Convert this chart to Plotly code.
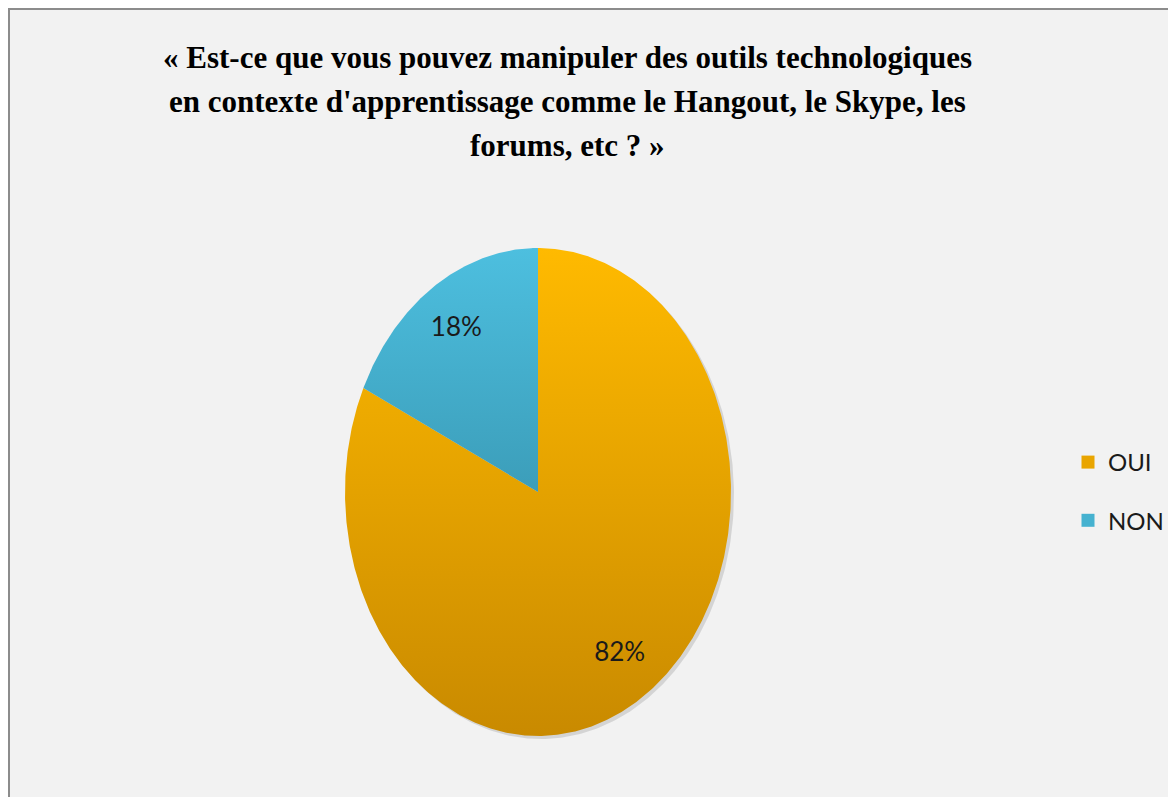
import numpy as np
import plotly.graph_objects as go

# ---- data ----
categories = ["OUI", "NON"]
values = [82, 18]
title_lines = [
    "« Est-ce que vous pouvez manipuler des outils technologiques",
    "en contexte d'apprentissage comme le Hangout, le Skype, les",
    "forums, etc ? »",
]

# ---- styles ----
W, H = 1168, 789                      # page has an 8px body margin
CX, CY, RX, RY = 530, 484, 193, 244   # pie centre / radii in pixels
grad = {
    "OUI": ("#C98A00", "#FFBA00"),
    "NON": ("#2A7C94", "#4DBFDF"),
}
legend_col = {"OUI": "#E9A500", "NON": "#46B2D0"}

fig = go.Figure()

# axis ranges such that the unit circle maps onto the ellipse
xr = [-CX / RX, (W - CX) / RX]
yr = [(CY - H) / RY, CY / RY]

# soft shadow
t = np.linspace(0, 2 * np.pi, 400)
fig.add_trace(go.Scatter(
    x=np.sin(t) + 3 / RX, y=np.cos(t) - 3 / RY, mode="lines",
    fill="toself", fillcolor="rgba(0,0,0,0.12)", line=dict(width=0),
    hoverinfo="skip", showlegend=False))

total = sum(values)
start = 0.0
mids = []
for cat, v in zip(categories, values):
    span = 360.0 * v / total
    th = np.radians(np.linspace(start, start + span, max(int(span * 2), 10)))
    xs = np.concatenate([[0], np.sin(th), [0]])
    ys = np.concatenate([[0], np.cos(th), [0]])
    lo, hi = grad[cat]
    fig.add_trace(go.Scatter(
        x=xs, y=ys, mode="lines", fill="toself",
        fillgradient=dict(type="vertical", colorscale=[[0, lo], [1, hi]],
                          start=-1, stop=1),
        line=dict(width=0), hoverinfo="skip", showlegend=False))
    mids.append(np.radians(start + span / 2))
    start += span

# percentage labels
r_lab = 0.79
fig.add_trace(go.Scatter(
    x=[r_lab * np.sin(m) for m in mids],
    y=[r_lab * np.cos(m) for m in mids],
    mode="text",
    text=[f"{round(100 * v / total)}%" for v in values],
    textfont=dict(family="Lato, Carlito, Arial", size=26, color="#1a1a1a"),
    hoverinfo="skip", showlegend=False))

# legend entries
for cat in categories:
    fig.add_trace(go.Scatter(
        x=[None], y=[None], mode="markers", name=cat,
        marker=dict(symbol="square", size=13, color=legend_col[cat]),
        legendgroup=cat))

# background frame
shapes = [dict(type="rect", xref="paper", yref="paper",
               x0=0, x1=1.02, y0=-0.02, y1=1,
               fillcolor="#F2F2F2", line=dict(color="#8C8C8C", width=4),
               layer="below")]

annotations = []
line_y = [49, 93, 138]
for txt, py in zip(title_lines, line_y):
    annotations.append(dict(
        text=f"<b>{txt}</b>", xref="paper", yref="paper",
        x=559 / W, y=1 - py / H, xanchor="center", yanchor="middle",
        showarrow=False,
        font=dict(family="Liberation Serif, Times New Roman, serif", size=31, color="#000")))

fig.update_layout(
    width=W, height=H,
    margin=dict(l=0, r=0, t=0, b=0),
    paper_bgcolor="white", plot_bgcolor="rgba(0,0,0,0)",
    xaxis=dict(range=xr, visible=False, fixedrange=True),
    yaxis=dict(range=yr, visible=False, fixedrange=True),
    shapes=shapes, annotations=annotations,
    showlegend=True,
    legend=dict(x=1060 / W, y=1 - 432 / H, xanchor="left", yanchor="top",
                bgcolor="rgba(0,0,0,0)", traceorder="grouped", tracegroupgap=24,
                font=dict(family="Lato, Carlito, Arial", size=24, color="#1a1a1a"),
                itemwidth=30),
)

fig.write_html("out.html")
